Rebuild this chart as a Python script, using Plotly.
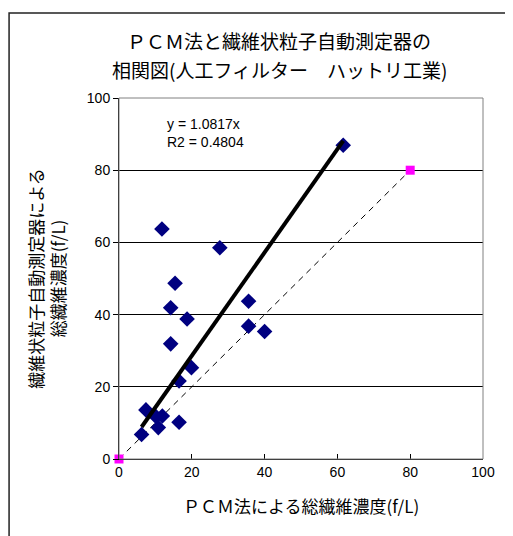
import plotly.graph_objects as go
import numpy as np

# PCM method (x) vs automatic fibrous particle monitor (y), f/L
pcm_x = [61.6, 11.8, 27.7, 15.4, 14.2, 18.7, 35.6, 35.6, 40.0, 14.2, 19.9, 16.5, 7.4, 10.2, 11.9, 10.8, 16.5, 6.2]
auto_y = [86.9, 63.7, 58.5, 48.7, 41.9, 38.8, 43.7, 36.8, 35.3, 31.9, 25.3, 21.6, 13.6, 11.7, 11.9, 8.7, 10.2, 6.8]

# reference 1:1 line endpoints
ref_x = [0, 80]
ref_y = [0, 80]

x_ticks = [0, 20, 40, 60, 80, 100]
y_ticks = [0, 20, 40, 60, 80, 100]

eq_text = "y = 1.0817x<br>R2 = 0.4804"
title_lines = ["ＰＣＭ法と繊維状粒子自動測定器の", "相関図(人工フィルター　ハットリ工業)"]

# trend line through origin fitted to data
xa = np.array(pcm_x)
ya = np.array(auto_y)
slope = float((xa * ya).sum() / (xa * xa).sum())
trend_x = [float(xa.min()), float(xa.max())]
trend_y = [slope * v for v in trend_x]

JP = "Noto Sans CJK JP"
NUM = "Liberation Sans, Arial"

fig = go.Figure()

fig.add_trace(go.Scatter(x=ref_x, y=ref_y, mode="lines",
                         line=dict(color="black", width=1, dash="6px,5px"),
                         hoverinfo="skip", showlegend=False))
fig.add_trace(go.Scatter(x=pcm_x, y=auto_y, mode="markers",
                         marker=dict(symbol="diamond", size=12, color="#000080",
                                     line=dict(width=0)),
                         showlegend=False))
fig.add_trace(go.Scatter(x=trend_x, y=trend_y, mode="lines",
                         line=dict(color="black", width=4),
                         showlegend=False))
fig.add_trace(go.Scatter(x=ref_x, y=ref_y, mode="markers",
                         marker=dict(symbol="square", size=9, color="#FF00FF",
                                     line=dict(width=0)),
                         cliponaxis=False, showlegend=False))

fig.add_annotation(x=0.125, y=0.955, xref="paper", yref="paper",
                   text=eq_text, showarrow=False, xanchor="left", yanchor="top",
                   align="left", font=dict(family=NUM, size=14, color="black"))

# title (two lines)
fig.add_annotation(x=0.44, y=1.158, xref="paper", yref="paper",
                   text=title_lines[0], showarrow=False, xanchor="center", yanchor="middle",
                   borderpad=0, font=dict(family=JP, size=19, color="black"))
fig.add_annotation(x=0.44, y=1.080, xref="paper", yref="paper",
                   text=title_lines[1], showarrow=False, xanchor="center", yanchor="middle",
                   borderpad=0, font=dict(family=JP, size=19, color="black"))

# y axis title
fig.add_annotation(x=-0.2, y=0.5, xref="paper", yref="paper",
                   text="繊維状粒子自動測定器による<br>総繊維濃度(f/L)",
                   showarrow=False, textangle=-90, xanchor="center", yanchor="middle",
                   font=dict(family=JP, size=17, color="black"))

# x axis title
fig.add_annotation(x=0.5, y=-0.128, xref="paper", yref="paper",
                   text="ＰＣＭ法による総繊維濃度(f/L)",
                   showarrow=False, xanchor="center", yanchor="middle",
                   font=dict(family=JP, size=17, color="black"))

# chart border
fig.add_shape(type="rect", xref="paper", yref="paper",
              x0=-0.302, y0=-0.4, x1=1.3, y1=1.2355,
              line=dict(color="#222222", width=1.5), fillcolor="rgba(0,0,0,0)")
# plot area border
fig.add_shape(type="rect", xref="paper", yref="paper",
              x0=0, y0=0, x1=1, y1=1,
              line=dict(color="#808080", width=1), fillcolor="rgba(0,0,0,0)")

fig.update_xaxes(range=[0, 100], tickvals=x_ticks, ticktext=[str(v) for v in x_ticks],
                 showgrid=False, zeroline=False, showline=True, linecolor="black",
                 linewidth=1, ticks="inside", ticklen=5, tickcolor="black",
                 tickfont=dict(family=NUM, size=14, color="black"))
fig.update_yaxes(range=[0, 100], tickvals=y_ticks, ticktext=[str(v) for v in y_ticks],
                 showgrid=True, gridcolor="black", gridwidth=1, zeroline=False,
                 showline=True, linecolor="black", linewidth=1,
                 ticks="outside", ticklen=5, tickcolor="black",
                 tickfont=dict(family=NUM, size=14, color="black"))

fig.update_layout(width=513, height=536,
                  margin=dict(l=111, r=38, t=90, b=85),
                  plot_bgcolor="white", paper_bgcolor="white",
                  showlegend=False)

fig.write_html("out.html")
